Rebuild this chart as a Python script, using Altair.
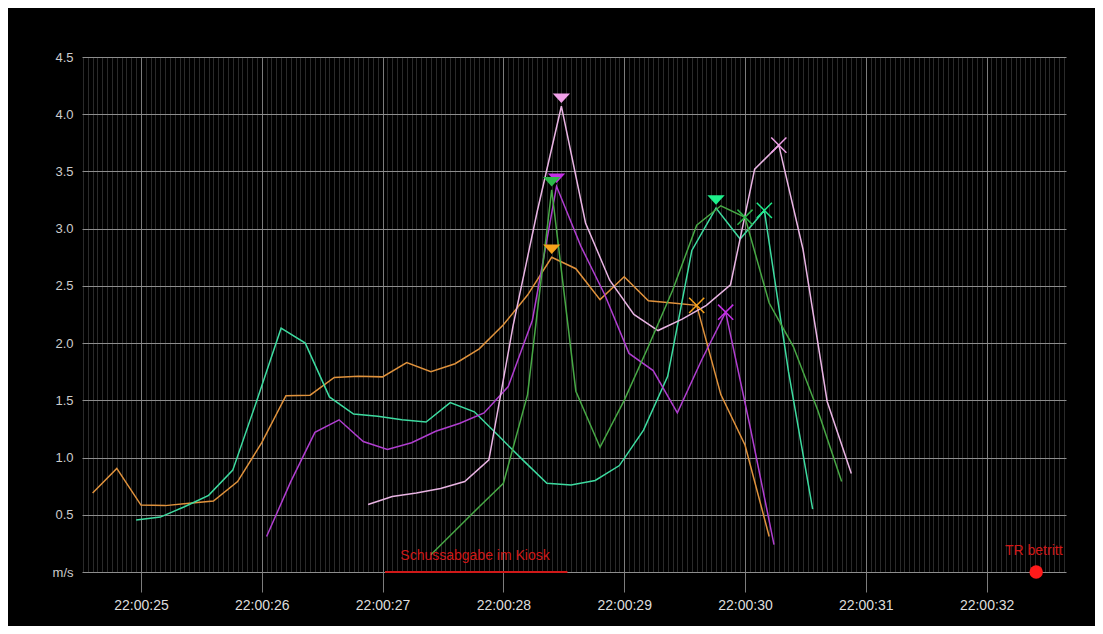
import altair as alt
import pandas as pd

# ---------------- data (seconds after 22:00:00, speed in m/s) ----------------
series_names = ["orange", "teal", "purple", "pink", "green"]

orange_t = [24.6, 24.8, 25.0, 25.2, 25.4, 25.6, 25.8, 26.0, 26.2, 26.4, 26.6, 26.8, 27.0, 27.2, 27.4,
            27.6, 27.8, 28.0, 28.2, 28.4, 28.6, 28.8, 29.0, 29.2, 29.4, 29.6, 29.8, 30.0, 30.2]
orange_v = [0.69, 0.905, 0.585, 0.58, 0.60, 0.62, 0.79, 1.13, 1.54, 1.545, 1.70, 1.71, 1.705, 1.83, 1.75,
            1.82, 1.95, 2.16, 2.42, 2.75, 2.65, 2.38, 2.58, 2.37, 2.35, 2.33, 1.55, 1.11, 0.31]

teal_t = [24.96, 25.16, 25.36, 25.56, 25.76, 25.96, 26.16, 26.36, 26.56, 26.76, 26.96, 27.16, 27.36, 27.56, 27.76,
          27.96, 28.16, 28.36, 28.56, 28.76, 28.96, 29.16, 29.36, 29.56, 29.76, 29.96, 30.16, 30.36, 30.56]
teal_v = [0.455, 0.48, 0.57, 0.67, 0.89, 1.5, 2.13, 2.0, 1.53, 1.38, 1.36, 1.33, 1.31, 1.48, 1.40,
          1.19, 0.98, 0.775, 0.76, 0.80, 0.93, 1.24, 1.71, 2.81, 3.18, 2.91, 3.16, 1.75, 0.55]

purple_t = [26.04, 26.24, 26.44, 26.64, 26.84, 27.04, 27.24, 27.44, 27.64, 27.84, 28.04,
            28.24, 28.44, 28.64, 28.84, 29.04, 29.24, 29.44, 29.64, 29.84, 30.04, 30.24]
purple_v = [0.31, 0.79, 1.22, 1.33, 1.14, 1.07, 1.13, 1.23, 1.30, 1.39, 1.62,
            2.2, 3.37, 2.85, 2.42, 1.91, 1.76, 1.39, 1.85, 2.27, 1.28, 0.24]

pink_t = [26.88, 27.08, 27.28, 27.48, 27.68, 27.88, 28.08, 28.28, 28.48, 28.68, 28.88,
          29.08, 29.28, 29.48, 29.68, 29.88, 30.08, 30.28, 30.48, 30.68, 30.88]
pink_v = [0.59, 0.66, 0.69, 0.73, 0.79, 0.98, 2.15, 3.15, 4.07, 3.05, 2.55,
          2.25, 2.11, 2.21, 2.33, 2.51, 3.52, 3.73, 2.82, 1.49, 0.86]

green_t = [27.4, 27.6, 27.8, 28.0, 28.2, 28.4, 28.6, 28.8, 29.0, 29.2, 29.4, 29.6, 29.8, 30.0,
           30.2, 30.4, 30.6, 30.8]
green_v = [0.15, 0.36, 0.57, 0.775, 1.55, 3.34, 1.58, 1.09, 1.50, 1.97, 2.46, 3.03, 3.20, 3.10,
           2.35, 1.97, 1.42, 0.79]

# peak markers (triangles) and second-peak markers (crosses)
peak_series = ["pink", "purple", "green", "orange", "teal"]
peak_t = [28.48, 28.44, 28.40, 28.40, 29.76]
peak_v = [4.07, 3.37, 3.34, 2.75, 3.18]

cross_series = ["orange", "purple", "green", "teal", "pink"]
cross_t = [29.60, 29.84, 30.00, 30.16, 30.28]
cross_v = [2.33, 2.27, 3.10, 3.16, 3.73]

# annotations
annot_labels = ["Schussabgabe im Kiosk", "TR betritt"]
annot_t = [27.765, 32.39]
annot_v = [0.14, 0.18]
shot_start = [27.02]
shot_end = [28.53]
enter_t = [32.41]
enter_v = [0.0]

# ---------------- styles ----------------
line_colors = ["#e0923c", "#3ddba0", "#b03ed0", "#e9b4e3", "#47a845"]
marker_colors = {"orange": "#f7a21b", "teal": "#1ef08c", "purple": "#c42ee6",
                 "pink": "#f0a0e8", "green": "#2db84a"}
RED = "#d01818"
FONT = "Liberation Sans"

# ---------------- tables ----------------
rows = []
for name, ts, vs in [("orange", orange_t, orange_v), ("teal", teal_t, teal_v),
                     ("purple", purple_t, purple_v), ("pink", pink_t, pink_v),
                     ("green", green_t, green_v)]:
    for i, (t, v) in enumerate(zip(ts, vs)):
        rows.append({"series": name, "t": t, "v": v, "i": i})
lines_df = pd.DataFrame(rows)

peaks_df = pd.DataFrame({"series": peak_series, "t": peak_t, "v": peak_v,
                         "c": [marker_colors[s] for s in peak_series]})
cross_df = pd.DataFrame({"series": cross_series, "t": cross_t, "v": cross_v,
                         "c": [marker_colors[s] for s in cross_series]})
text_df = pd.DataFrame({"label": annot_labels, "t": annot_t, "v": annot_v})
shot_df = pd.DataFrame({"t": shot_start, "t2": shot_end, "v": [0.0]})
enter_df = pd.DataFrame({"t": enter_t, "v": enter_v})

# ---------------- scales / axes ----------------
major_test = "abs(datum.value - round(datum.value)) < 0.001"
minor_values = [round(24.52 + 0.04 * i, 2) for i in range(204)]

x_scale = alt.Scale(domain=[24.512, 32.657], nice=False, zero=False)
y_scale = alt.Scale(domain=[0, 4.5], nice=False, zero=True)

x_axis = alt.Axis(
    values=minor_values, title=None, domain=False,
    grid=True, gridWidth=1,
    gridColor={"condition": {"test": major_test, "value": "#7c7c7c"}, "value": "#2a2a2a"},
    ticks=True, tickSize=20, tickColor="#7c7c7c",
    tickOpacity={"condition": {"test": major_test, "value": 1}, "value": 0},
    labelExpr=f"({major_test}) ? '22:00:' + round(datum.value) : ''",
    labelColor="#dddddd", labelFont=FONT, labelFontSize=14, labelPadding=6,
    labelOverlap=False, labelFlush=False,
)
y_axis = alt.Axis(
    values=[0, 0.5, 1.0, 1.5, 2.0, 2.5, 3.0, 3.5, 4.0, 4.5], title=None, domain=False,
    grid=True, gridColor="#8e8e8e", gridWidth=1, ticks=False,
    labelExpr="datum.value == 0 ? 'm/s' : format(datum.value, '.1f')",
    labelColor="#cccccc", labelFont=FONT, labelFontSize=13, labelPadding=9,
)

X = alt.X("t:Q", scale=x_scale, axis=x_axis)
Y = alt.Y("v:Q", scale=y_scale, axis=y_axis)

lines = alt.Chart(lines_df).mark_line(strokeWidth=1.5).encode(
    x=X, y=Y,
    color=alt.Color("series:N", scale=alt.Scale(domain=series_names, range=line_colors), legend=None),
    order="i:Q",
)

peaks = alt.Chart(peaks_df).mark_point(
    shape="M-1,-0.55L1,-0.55L0,0.55Z", filled=True, size=300, opacity=1, yOffset=-8
).encode(x=X, y=Y, fill=alt.Fill("c:N", scale=None))

crosses = alt.Chart(cross_df).mark_point(
    shape="M-1,-1L1,1M-1,1L1,-1", filled=False, size=230, strokeWidth=1.5, opacity=1
).encode(x=X, y=Y, stroke=alt.Stroke("c:N", scale=None))

shot = alt.Chart(shot_df).mark_rule(color=RED, strokeWidth=2).encode(x=X, x2="t2:Q", y=Y)

enter = alt.Chart(enter_df).mark_point(filled=True, shape="circle", size=180, color="#ff1a1a", opacity=1).encode(x=X, y=Y)

texts = alt.Chart(text_df).mark_text(color=RED, font=FONT, fontSize=14, align="center", baseline="middle").encode(
    x=X, y=Y, text="label:N"
)

chart = alt.layer(lines, shot, enter, texts, peaks, crosses).properties(
    width=984, height=515,
    autosize=alt.AutoSizeParams(type="none"),
    padding={"left": 74, "top": 49, "right": 29, "bottom": 54},
    background="black",
).configure_view(stroke=None)

chart.save("out.html", embed_options={"renderer": "svg", "actions": False})
